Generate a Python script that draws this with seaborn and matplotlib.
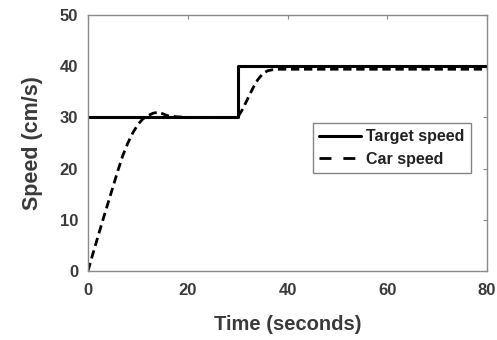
import matplotlib
matplotlib.use("Agg")
import matplotlib.pyplot as plt
import seaborn as sns
import pandas as pd

sns.set_theme(style="white")
plt.rcParams['font.family'] = ['Liberation Sans', 'DejaVu Sans']

target_time = [0, 30, 30, 80]
target_speed = [30, 30, 40, 40]

car_time = [0, 1, 2, 3, 4, 5, 6, 7, 8, 9, 10, 11, 12, 13, 14, 15, 16, 18, 20, 25, 30,
            31, 32, 33, 34, 35, 36, 37, 38, 40, 50, 60, 70, 80]
car_speed = [0, 3.4, 6.7, 10, 13.2, 16.4, 19.6, 22.6, 25, 27, 28.6, 29.7, 30.3, 30.8, 31, 30.7, 30.3, 30.1, 30, 30, 30,
             31.6, 33.6, 35.6, 37.3, 38.5, 39.1, 39.3, 39.4, 39.4, 39.4, 39.4, 39.4, 39.4]

x_ticks = [0, 20, 40, 60, 80]
y_ticks = [0, 10, 20, 30, 40, 50]

fig = plt.figure(figsize=(4.97, 3.40), dpi=100)
ax = fig.add_axes([0.177, 0.203, 0.803, 0.753])

df_t = pd.DataFrame({"t": target_time, "v": target_speed})
df_c = pd.DataFrame({"t": car_time, "v": car_speed})

sns.lineplot(data=df_t, x="t", y="v", ax=ax, color="black", lw=2.2, sort=False,
             estimator=None, label="Target speed")
sns.lineplot(data=df_c, x="t", y="v", ax=ax, color="black", lw=2.0, sort=False,
             estimator=None, label="Car speed", dashes=False)
ax.lines[1].set_dashes([3.0, 1.7])

ax.set_xlim(0, 80)
ax.set_ylim(0, 50)
ax.set_xticks(x_ticks)
ax.set_yticks(y_ticks)
tc = "#3a3a3a"
ax.tick_params(direction="in", length=3, width=0.8, color="#888888", labelsize=12,
               labelcolor=tc, top=True, right=True)
ax.tick_params(axis="x", pad=9)
ax.tick_params(axis="y", pad=7)
for lab in ax.get_xticklabels() + ax.get_yticklabels():
    lab.set_fontweight("bold")
for s in ax.spines.values():
    s.set_color("#8a8a8a")
    s.set_linewidth(1.0)
ax.set_xlabel("Time (seconds)", fontsize=14.5, fontweight="bold", color=tc, labelpad=12)
ax.set_ylabel("Speed (cm/s)", fontsize=15.5, fontweight="bold", color=tc, labelpad=12)

leg = ax.legend(loc="upper left", bbox_to_anchor=(0.564, 0.578), frameon=True, fancybox=False,
                prop={"weight": "bold", "size": 11.5}, handlelength=2.6, borderpad=0.4,
                labelspacing=0.45, handletextpad=0.3, borderaxespad=0)
leg.get_frame().set_edgecolor("#666666")
leg.get_frame().set_linewidth(1.0)
for t in leg.get_texts():
    t.set_color("#222222")
leg.get_lines()[1].set_dashes([4.3, 4.3])

fig.savefig("out.png", dpi=100)
